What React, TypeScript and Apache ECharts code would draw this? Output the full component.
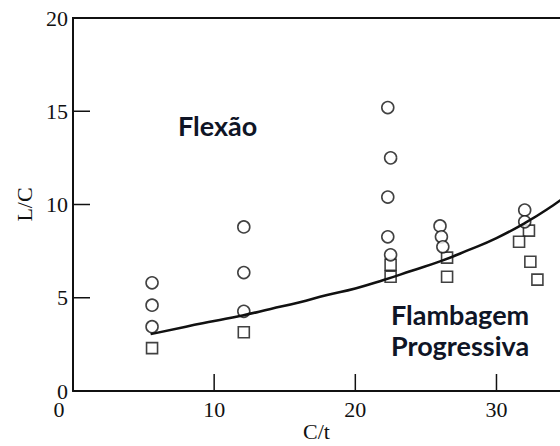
import React, { useEffect, useRef } from "react";
import * as echarts from "echarts";

// Flexão (circles) and Flambagem progressiva (squares) observations: [C/t, L/C]
const circleX = [5.6, 5.6, 5.6, 12.1, 12.1, 12.1, 22.3, 22.5, 22.3, 22.3, 22.5, 26.0, 26.1, 26.2, 32.0, 32.0];
const circleY = [5.8, 4.6, 3.45, 8.8, 6.35, 4.27, 15.2, 12.5, 10.4, 8.27, 7.3, 8.85, 8.27, 7.73, 9.7, 9.07];
const squareX = [5.6, 12.1, 22.5, 22.5, 26.5, 26.5, 32.3, 31.6, 32.4, 32.9];
const squareY = [2.3, 3.15, 6.77, 6.13, 7.15, 6.13, 8.6, 8.0, 6.93, 5.97];

// boundary curve
const curveX = [5.5, 8, 10, 12, 14, 16, 18, 20, 22, 24, 26, 28, 30, 32, 34, 35];
const curveY = [3.05, 3.45, 3.75, 4.05, 4.4, 4.75, 5.15, 5.5, 5.95, 6.45, 6.95, 7.55, 8.2, 9.0, 9.95, 10.5];

const xTicks = [0, 10, 20, 30];
const yTicks = [0, 5, 10, 15, 20];

const labelFlexao = "Flexão";
const labelFlamb1 = "Flambagem";
const labelFlamb2 = "Progressiva";

export default function App() {
  const ref = useRef<HTMLDivElement>(null);
  useEffect(() => {
    if (!ref.current) return;
    const chart = echarts.init(ref.current, null, { renderer: "svg" });
    const serif = "Liberation Serif";
    const tickFont = { fontFamily: serif, fontSize: 22, fill: "#111" };
    chart.setOption({
      animation: false,
      grid: { left: 73, right: 0, top: 18, bottom: 55, outerBoundsMode: "none" },
      xAxis: [
        {
          type: "value", min: 0, max: 34.5, interval: 10,
          name: "C/t", nameLocation: "middle", nameGap: 29,
          nameTextStyle: { fontFamily: serif, fontSize: 22, color: "#111" },
          axisLine: { show: true, lineStyle: { color: "#111", width: 2 } },
          axisTick: { show: false },
          axisLabel: { show: false },
          splitLine: { show: false },
        },
      ],
      yAxis: {
        type: "value", min: 0, max: 20, interval: 5,
        name: "L/C", nameLocation: "middle", nameGap: 38,
        nameTextStyle: { fontFamily: serif, fontSize: 22, color: "#111" },
        axisLine: { show: true, lineStyle: { color: "#111", width: 2 } },
        axisTick: { show: false },
        axisLabel: { show: false },
        splitLine: { show: false },
      },
      series: [
        {
          type: "custom",
          clip: false,
          silent: true,
          data: xTicks.map((v) => [v, 0]),
          renderItem: (params: any, api: any) => {
            const v = api.value(0);
            const p = api.coord([v, 0]);
            return {
              type: "group",
              children: [
                {
                  type: "line",
                  shape: { x1: p[0], y1: p[1], x2: p[0], y2: p[1] - 17 },
                  style: { stroke: "#111", lineWidth: 1.5 },
                },
                {
                  type: "text",
                  x: p[0] - (v === 0 ? 14 : 0),
                  y: p[1] + 7,
                  style: { ...tickFont, text: String(v), align: "center", verticalAlign: "top" },
                },
              ],
            };
          },
        },
        {
          type: "custom",
          clip: false,
          silent: true,
          data: yTicks.map((v) => [0, v]),
          renderItem: (params: any, api: any) => {
            const v = api.value(1);
            const p = api.coord([0, v]);
            return {
              type: "group",
              children: [
                {
                  type: "line",
                  shape: { x1: p[0], y1: p[1], x2: p[0] + 17, y2: p[1] },
                  style: { stroke: "#111", lineWidth: 1.5 },
                },
                {
                  type: "text",
                  x: p[0] - 5,
                  y: p[1],
                  style: { ...tickFont, text: String(v), align: "right", verticalAlign: "middle" },
                },
              ],
            };
          },
        },
        {
          type: "scatter",
          data: squareX.map((x, i) => [x, squareY[i]]),
          symbol: "rect",
          symbolSize: 11,
          itemStyle: { color: "#ffffff", borderColor: "#111", borderWidth: 1.6 },
        },
        {
          type: "scatter",
          data: circleX.map((x, i) => [x, circleY[i]]),
          symbol: "circle",
          symbolSize: 12,
          itemStyle: { color: "#ffffff", borderColor: "#111", borderWidth: 1.6 },
        },
        {
          type: "line",
          data: curveX.map((x, i) => [x, curveY[i]]),
          smooth: true,
          showSymbol: false,
          lineStyle: { color: "#111", width: 2.5 },
        },
      ],
    });
    const annot = {
      fontFamily: "Lato",
      fontWeight: "bold",
      fontSize: 27,
      fill: "#0f1526",
      textShadowColor: "#d08a2a",
      textShadowOffsetX: -1.5,
      textShadowOffsetY: 0,
      textShadowBlur: 0,
    };
    chart.setOption({
      graphic: [
        { type: "line", shape: { x1: 72, y1: 18, x2: 560, y2: 18 }, style: { stroke: "#111", lineWidth: 2 } },
        { type: "text", left: 178, top: 112, style: { ...annot, text: labelFlexao } },
        { type: "text", left: 391, top: 301, style: { ...annot, text: labelFlamb1 } },
        { type: "text", left: 391, top: 332, style: { ...annot, text: labelFlamb2 } },
      ],
    });
    return () => chart.dispose();
  }, []);
  return <div ref={ref} style={{ position: "fixed", left: 0, top: 0, width: 560, height: 446, background: "#fff" }} />;
}
